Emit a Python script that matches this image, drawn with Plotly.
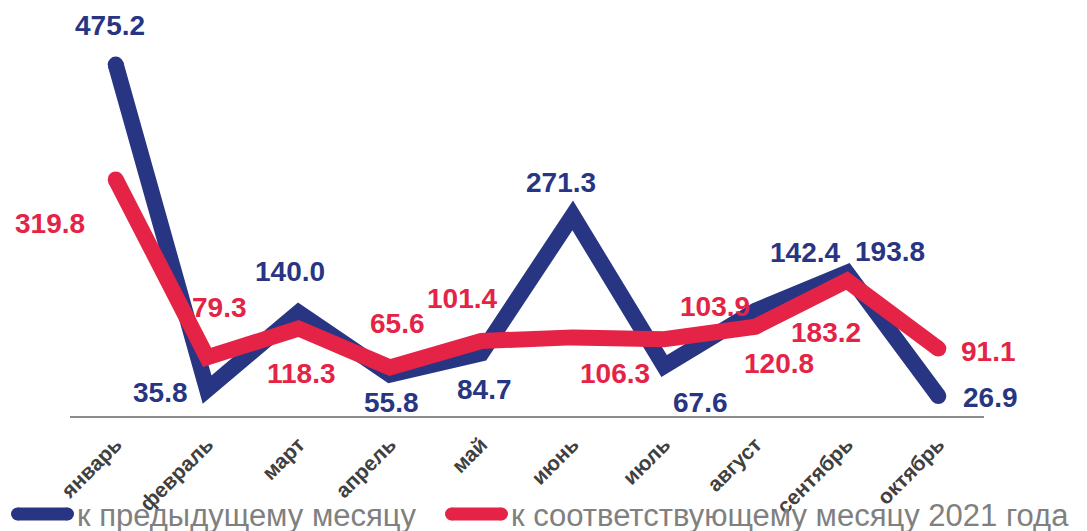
import plotly.graph_objects as go

months = ["январь", "февраль", "март", "апрель", "май", "июнь", "июль", "август", "сентябрь", "октябрь"]
prev_month = [475.2, 35.8, 140.0, 55.8, 84.7, 271.3, 67.6, 142.4, 193.8, 26.9]
same_month_2021 = [319.8, 79.3, 118.3, 65.6, 101.4, 106.3, 103.9, 120.8, 183.2, 91.1]
series_names = ["к предыдущему месяцу", "к соответствующему месяцу 2021 года"]

# label offsets in pixels (xshift, yshift)
blue_off = [(-6, 39), (-47, -3), (-9, 41), (2, -28), (3, -36), (-12, 33), (36, -36), (49, 58), (43, 21), (52, -1)]
red_off = [(-66, -44), (12, 50), (3, -45), (8, 44), (-19, 43), (42, -36), (51, 33), (23, -37), (-21, -52), (50, -3)]

BLUE = "#283583"
RED = "#E42346"
FONT = "Liberation Sans, Arial, sans-serif"

# page body has an 8px margin; compensate so the plot lands where the reference has it
OFF = 8
W, H = 1087 - OFF, 531 - OFF
L, R, T, B = 70 - OFF, 103, 10 - OFF, 115
PW, PH = W - L - R, H - T - B


def px(xp):
    # window pixel -> paper fraction
    return (xp - OFF - L) / PW


def py(yp):
    return (H - B - (yp - OFF)) / PH


n = len(months)
end_sizes = [16] + [0] * (n - 2) + [16]

fig = go.Figure()
for vals, col, name in [(prev_month, BLUE, series_names[0]), (same_month_2021, RED, series_names[1])]:
    fig.add_trace(go.Scatter(
        x=months, y=vals, mode="lines+markers", name=name,
        line=dict(color=col, width=16),
        marker=dict(size=end_sizes, color=col, opacity=1, line=dict(width=0)),
        showlegend=False, hoverinfo="skip",
    ))

annotations = []
for vals, offs, col in [(prev_month, blue_off, BLUE), (same_month_2021, red_off, RED)]:
    for m, v, (dx, dy) in zip(months, vals, offs):
        annotations.append(dict(
            x=m, y=v, xref="x", yref="y", text=f"{v:.1f}", showarrow=False,
            xshift=dx, yshift=dy, xanchor="center", yanchor="middle",
            font=dict(family=FONT, size=28, color=col, weight="bold"),
        ))

# manual legend
shapes = []
leg_y = 514
for (x0, x1, tx), col, name in [((11, 74, 75), BLUE, series_names[0]), ((445, 508, 509), RED, series_names[1])]:
    r = 6.5
    shapes.append(dict(type="line", xref="paper", yref="paper",
                       x0=px(x0 + r), x1=px(x1 - r), y0=py(leg_y), y1=py(leg_y),
                       line=dict(color=col, width=13)))
    for cx in (x0 + r, x1 - r):
        shapes.append(dict(type="circle", xref="paper", yref="paper",
                           xsizemode="pixel", ysizemode="pixel",
                           xanchor=px(cx), yanchor=py(leg_y),
                           x0=-r, x1=r, y0=-r, y1=r,
                           fillcolor=col, line=dict(width=0)))
    annotations.append(dict(
        x=px(tx), y=py(leg_y + 2), xref="paper", yref="paper", text=name,
        showarrow=False, xanchor="left", yanchor="middle",
        font=dict(family=FONT, size=31, color="#808080"),
    ))

fig.update_layout(
    width=W, height=H,
    margin=dict(l=L, r=R, t=T, b=B, pad=0),
    paper_bgcolor="white", plot_bgcolor="white",
    showlegend=False,
    xaxis=dict(
        type="category", showgrid=False, zeroline=False,
        showline=True, linecolor="#8c8c8c", linewidth=2,
        tickangle=-45, ticks="", ticklabelstandoff=6,
        tickfont=dict(family=FONT, size=21, color="#404040", weight="bold"),
        range=[-0.5, n - 0.5], fixedrange=True,
    ),
    yaxis=dict(range=[0, PH / 0.7396], visible=False, fixedrange=True),
    annotations=annotations,
    shapes=shapes,
)

fig.write_html("out.html")
